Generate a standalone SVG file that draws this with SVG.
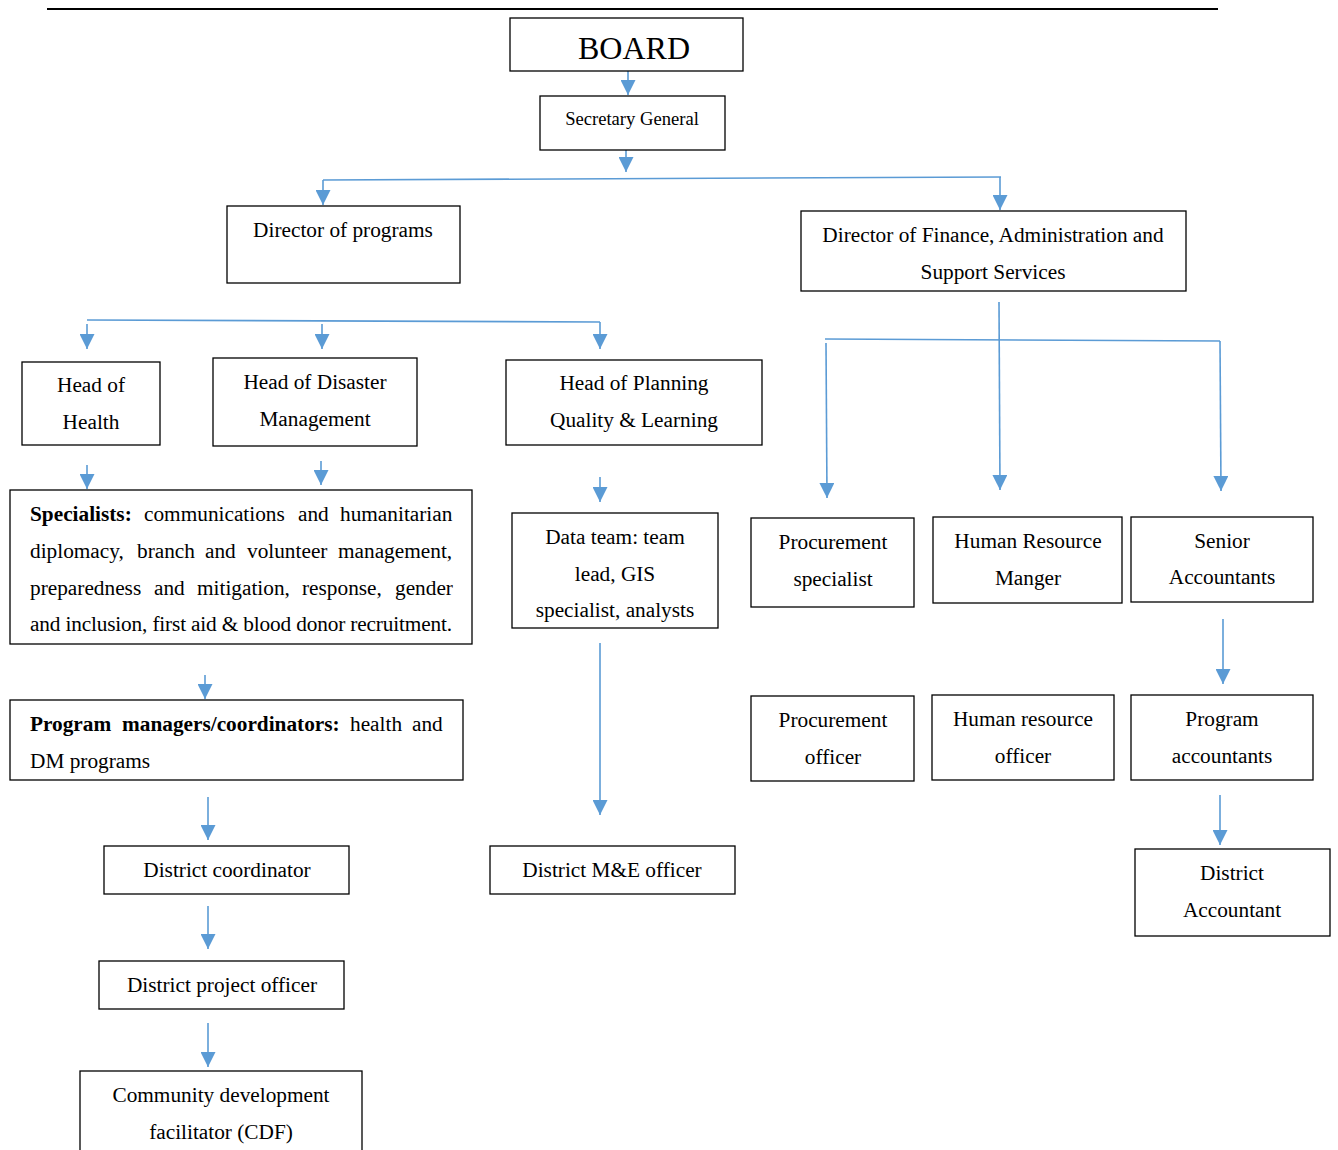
<svg xmlns="http://www.w3.org/2000/svg" width="1338" height="1150" viewBox="0 0 1338 1150">
<style>
.box{fill:#fff;stroke:#000;stroke-width:1.3}
.t{font-family:"Liberation Serif","Times New Roman",serif;font-size:21.3px;fill:#000;text-anchor:middle}
.j{font-family:"Liberation Serif","Times New Roman",serif;font-size:21.3px;fill:#000}
.c{stroke:#5B9BD5;stroke-width:1.6;fill:none}
</style>
<defs>
<marker id="a" viewBox="0 0 14 14" refX="14" refY="7" markerWidth="15" markerHeight="15" markerUnits="userSpaceOnUse" orient="auto">
<path d="M0,0 L14,7 L0,14 z" fill="#5B9BD5"/>
</marker>
</defs>
<line x1="47" y1="9" x2="1218" y2="9" stroke="#000" stroke-width="2"/>
<g id="connectors">
<line class="c" x1="628" y1="71" x2="628" y2="95" marker-end="url(#a)"/>
<line class="c" x1="626" y1="150" x2="626" y2="172" marker-end="url(#a)"/>
<line class="c" x1="323" y1="180" x2="1001" y2="177"/>
<line class="c" x1="323" y1="180" x2="323" y2="205" marker-end="url(#a)"/>
<line class="c" x1="1000" y1="177" x2="1000" y2="210" marker-end="url(#a)"/>
<line class="c" x1="87" y1="320" x2="600" y2="322"/>
<line class="c" x1="87" y1="324" x2="87" y2="349" marker-end="url(#a)"/>
<line class="c" x1="322" y1="324" x2="322" y2="349" marker-end="url(#a)"/>
<line class="c" x1="600" y1="322" x2="600" y2="349" marker-end="url(#a)"/>
<line class="c" x1="87" y1="465" x2="87" y2="489" marker-end="url(#a)"/>
<line class="c" x1="321" y1="461" x2="321" y2="485" marker-end="url(#a)"/>
<line class="c" x1="205" y1="675" x2="205" y2="699" marker-end="url(#a)"/>
<line class="c" x1="208" y1="797" x2="208" y2="840" marker-end="url(#a)"/>
<line class="c" x1="208" y1="906" x2="208" y2="949" marker-end="url(#a)"/>
<line class="c" x1="208" y1="1023" x2="208" y2="1067" marker-end="url(#a)"/>
<line class="c" x1="600" y1="477" x2="600" y2="502" marker-end="url(#a)"/>
<line class="c" x1="600" y1="643" x2="600" y2="815" marker-end="url(#a)"/>
<line class="c" x1="999" y1="302" x2="1000" y2="490" marker-end="url(#a)"/>
<line class="c" x1="825" y1="339" x2="1220" y2="341"/>
<line class="c" x1="826" y1="343" x2="827" y2="498" marker-end="url(#a)"/>
<line class="c" x1="1220" y1="341" x2="1221" y2="491" marker-end="url(#a)"/>
<line class="c" x1="1223" y1="619" x2="1223" y2="684" marker-end="url(#a)"/>
<line class="c" x1="1220" y1="795" x2="1220" y2="845" marker-end="url(#a)"/>
</g>
<g id="board"><rect class="box" x="510" y="18" width="233" height="53"/><text class="t" x="634" y="59" style="font-size:32px">BOARD</text></g>
<g id="sg"><rect class="box" x="540" y="96" width="185" height="54"/><text class="t" x="632" y="125" style="font-size:18.6px">Secretary General</text></g>
<g id="dir-programs"><rect class="box" x="227" y="206" width="233" height="77"/><text class="t" x="343" y="237">Director of programs</text></g>
<g id="dir-finance"><rect class="box" x="801" y="211" width="385" height="80"/><text class="t" x="993" y="242">Director of Finance, Administration and</text><text class="t" x="993" y="279">Support Services</text></g>
<g id="head-health"><rect class="box" x="22" y="362" width="138" height="83"/><text class="t" x="91" y="392">Head of</text><text class="t" x="91" y="429">Health</text></g>
<g id="head-dm"><rect class="box" x="213" y="358" width="204" height="88"/><text class="t" x="315" y="389">Head of Disaster</text><text class="t" x="315" y="426">Management</text></g>
<g id="head-pql"><rect class="box" x="506" y="360" width="256" height="85"/><text class="t" x="634" y="390">Head of Planning</text><text class="t" x="634" y="427">Quality &amp; Learning</text></g>
<g id="specialists"><rect class="box" x="10" y="490" width="462" height="154"/>
<text class="j" y="521"><tspan x="30" font-weight="bold">Specialists:</tspan><tspan x="144">communications</tspan><tspan x="298">and</tspan><tspan x="340">humanitarian</tspan></text>
<text class="j" y="558"><tspan x="30">diplomacy,</tspan><tspan x="137">branch</tspan><tspan x="205">and</tspan><tspan x="247">volunteer</tspan><tspan x="338">management,</tspan></text>
<text class="j" y="595"><tspan x="30">preparedness</tspan><tspan x="154">and</tspan><tspan x="197">mitigation,</tspan><tspan x="302">response,</tspan><tspan x="395">gender</tspan></text>
<text class="j" x="30" y="631" textLength="422" lengthAdjust="spacing">and inclusion, first aid &amp; blood donor recruitment.</text>
</g>
<g id="program-managers"><rect class="box" x="10" y="700" width="453" height="80"/>
<text class="j" y="731"><tspan x="30" font-weight="bold">Program</tspan><tspan x="122" font-weight="bold">managers/coordinators:</tspan><tspan x="350">health</tspan><tspan x="412">and</tspan></text>
<text class="j" x="30" y="768">DM programs</text>
</g>
<g id="district-coordinator"><rect class="box" x="104" y="846" width="245" height="48"/><text class="t" x="227" y="877">District coordinator</text></g>
<g id="district-project-officer"><rect class="box" x="99" y="961" width="245" height="48"/><text class="t" x="222" y="992">District project officer</text></g>
<g id="cdf"><rect class="box" x="80" y="1071" width="282" height="100"/><text class="t" x="221" y="1102">Community development</text><text class="t" x="221" y="1139">facilitator (CDF)</text></g>
<g id="data-team"><rect class="box" x="512" y="513" width="206" height="115"/><text class="t" x="615" y="544">Data team: team</text><text class="t" x="615" y="581">lead, GIS</text><text class="t" x="615" y="617">specialist, analysts</text></g>
<g id="district-me"><rect class="box" x="490" y="846" width="245" height="48"/><text class="t" x="612" y="877">District M&amp;E officer</text></g>
<g id="proc-specialist"><rect class="box" x="751" y="518" width="163" height="89"/><text class="t" x="833" y="549">Procurement</text><text class="t" x="833" y="586">specialist</text></g>
<g id="hr-manager"><rect class="box" x="933" y="517" width="189" height="86"/><text class="t" x="1028" y="548">Human Resource</text><text class="t" x="1028" y="585">Manger</text></g>
<g id="senior-accountants"><rect class="box" x="1131" y="517" width="182" height="85"/><text class="t" x="1222" y="548">Senior</text><text class="t" x="1222" y="584">Accountants</text></g>
<g id="proc-officer"><rect class="box" x="751" y="696" width="163" height="85"/><text class="t" x="833" y="727">Procurement</text><text class="t" x="833" y="764">officer</text></g>
<g id="hr-officer"><rect class="box" x="932" y="695" width="182" height="85"/><text class="t" x="1023" y="726">Human resource</text><text class="t" x="1023" y="763">officer</text></g>
<g id="program-accountants"><rect class="box" x="1131" y="695" width="182" height="85"/><text class="t" x="1222" y="726">Program</text><text class="t" x="1222" y="763">accountants</text></g>
<g id="district-accountant"><rect class="box" x="1135" y="849" width="195" height="87"/><text class="t" x="1232" y="880">District</text><text class="t" x="1232" y="917">Accountant</text></g>
</svg>
